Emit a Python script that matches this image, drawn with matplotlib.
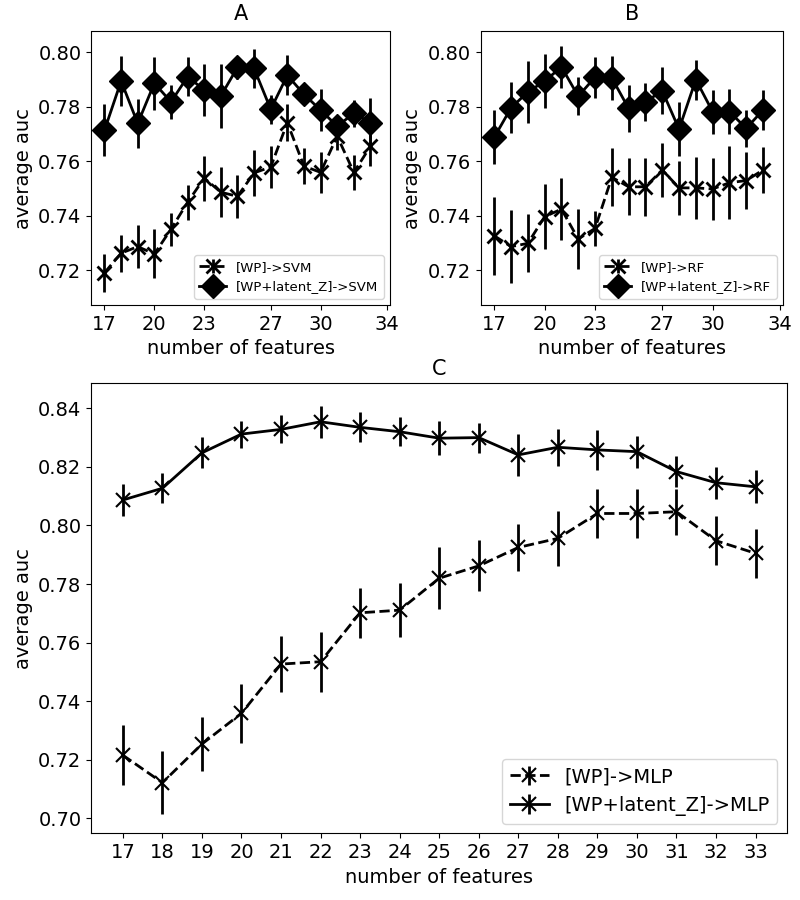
import numpy as np
import matplotlib
matplotlib.use("Agg")
import matplotlib.pyplot as plt

# number of features on the x axis
n_feat = list(range(17, 34))

# panel A: SVM
svm_wp = [0.7190, 0.7262, 0.7286, 0.7259, 0.7350, 0.7449, 0.7538, 0.7486, 0.7471,
          0.7557, 0.7579, 0.7742, 0.7582, 0.7559, 0.7692, 0.7559, 0.7655]
svm_wp_err = [0.0069, 0.0068, 0.0080, 0.0090, 0.0060, 0.0064, 0.0083, 0.0092, 0.0080,
              0.0086, 0.0077, 0.0069, 0.0066, 0.0074, 0.0051, 0.0064, 0.0071]
svm_z = [0.7714, 0.7895, 0.7739, 0.7887, 0.7818, 0.7911, 0.7862, 0.7840, 0.7945,
         0.7941, 0.7791, 0.7916, 0.7846, 0.7788, 0.7729, 0.7776, 0.7742]
svm_z_err = [0.0096, 0.0092, 0.0090, 0.0098, 0.0063, 0.0072, 0.0095, 0.0117, 0.0042,
             0.0072, 0.0054, 0.0074, 0.0032, 0.0076, 0.0040, 0.0050, 0.0090]

# panel B: RF
rf_wp = [0.7326, 0.7286, 0.7298, 0.7396, 0.7424, 0.7314, 0.7353, 0.7541, 0.7506,
         0.7506, 0.7568, 0.7502, 0.7502, 0.7498, 0.7521, 0.7529, 0.7568]
rf_wp_err = [0.0144, 0.0135, 0.0107, 0.0120, 0.0115, 0.0109, 0.0065, 0.0107, 0.0105,
             0.0106, 0.0100, 0.0099, 0.0114, 0.0115, 0.0134, 0.0106, 0.0086]
rf_z = [0.7688, 0.7796, 0.7855, 0.7894, 0.7947, 0.7839, 0.7909, 0.7906, 0.7794,
        0.7818, 0.7859, 0.7718, 0.7900, 0.7782, 0.7782, 0.7721, 0.7788]
rf_z_err = [0.0100, 0.0094, 0.0113, 0.0100, 0.0078, 0.0069, 0.0075, 0.0082, 0.0088,
            0.0070, 0.0087, 0.0099, 0.0074, 0.0081, 0.0082, 0.0067, 0.0075]

# panel C: MLP
mlp_wp = [0.7216, 0.7122, 0.7254, 0.7359, 0.7527, 0.7535, 0.7702, 0.7711, 0.7820,
          0.7862, 0.7925, 0.7956, 0.8041, 0.8041, 0.8047, 0.7948, 0.7905]
mlp_wp_err = [0.0102, 0.0107, 0.0091, 0.0101, 0.0097, 0.0102, 0.0085, 0.0092, 0.0105,
              0.0087, 0.0081, 0.0093, 0.0085, 0.0083, 0.0078, 0.0083, 0.0083]
mlp_z = [0.8087, 0.8127, 0.8248, 0.8312, 0.8328, 0.8354, 0.8335, 0.8320, 0.8298,
         0.8300, 0.8241, 0.8267, 0.8258, 0.8252, 0.8184, 0.8146, 0.8132]
mlp_z_err = [0.0056, 0.0051, 0.0053, 0.0046, 0.0048, 0.0055, 0.0051, 0.0050, 0.0057,
             0.0051, 0.0071, 0.0063, 0.0069, 0.0055, 0.0053, 0.0055, 0.0056]

fig = plt.figure(figsize=(8, 9), dpi=100)
axA = fig.add_axes([0.114, 0.661, 0.374, 0.304])
axB = fig.add_axes([0.601, 0.661, 0.378, 0.304])
axC = fig.add_axes([0.114, 0.074, 0.870, 0.500])

small_ticks = [17, 20, 23, 27, 30, 34]

for ax, wp, wp_err, z, z_err, clf in [
        (axA, svm_wp, svm_wp_err, svm_z, svm_z_err, "SVM"),
        (axB, rf_wp, rf_wp_err, rf_z, rf_z_err, "RF")]:
    ax.errorbar(n_feat, wp, yerr=wp_err, fmt='x--', color='k', lw=2,
                elinewidth=2, ms=10, mew=2, label="[WP]->" + clf)
    ax.errorbar(n_feat, z, yerr=z_err, fmt='D-', color='k', lw=2,
                elinewidth=2, ms=12, label="[WP+latent_Z]->" + clf)
    ax.set_xticks(small_ticks)
    ax.set_xlim(16.2, 34.2)
    ax.set_ylim(0.7071, 0.8077)
    ax.set_yticks([0.72, 0.74, 0.76, 0.78, 0.80])
    ax.tick_params(labelsize=14)
    ax.set_xlabel("number of features", fontsize=14)
    ax.set_ylabel("average auc", fontsize=14)
    ax.legend(loc="lower right", fontsize=9.5)

axA.set_title("A", fontsize=15, pad=8)
axB.set_title("B", fontsize=15, pad=8)

axC.errorbar(n_feat, mlp_wp, yerr=mlp_wp_err, fmt='x--', color='k', lw=2,
             elinewidth=2, ms=10, mew=1.5, label="[WP]->MLP")
axC.errorbar(n_feat, mlp_z, yerr=mlp_z_err, fmt='x-', color='k', lw=2,
             elinewidth=2, ms=10, mew=1.5, label="[WP+latent_Z]->MLP")
axC.set_xticks(n_feat)
axC.set_yticks([0.70, 0.72, 0.74, 0.76, 0.78, 0.80, 0.82, 0.84])
axC.set_ylim(0.6949, 0.8485)
axC.tick_params(labelsize=14)
axC.set_xlabel("number of features", fontsize=14)
axC.set_ylabel("average auc", fontsize=14)
axC.set_title("C", fontsize=15, pad=6)
axC.legend(loc="lower right", fontsize=14)

fig.savefig("out.png", dpi=100)
